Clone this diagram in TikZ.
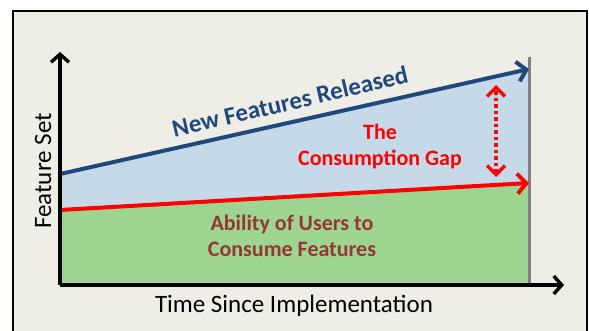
\documentclass[tikz,border=0pt]{standalone}
\usepackage{fontspec}
\setmainfont{Carlito}
\usetikzlibrary{arrows.meta}

\definecolor{panelbg}{RGB}{239,238,230}
\definecolor{gapfill}{RGB}{198,217,232}
\definecolor{usefill}{RGB}{157,212,145}
\definecolor{newblue}{RGB}{31,73,125}
\definecolor{usered}{RGB}{149,55,53}
\definecolor{limitgray}{RGB}{128,128,128}

\begin{document}
\begin{tikzpicture}
    [
        x=1pt, y=-1pt,
        axis/.style = {
                line width=3.4pt,
                -{Straight Barb[length=8pt,width=18pt]}
            },
        trend/.style = {
                line width=4pt,
                -{Straight Barb[length=9pt,width=20pt]}
            },
        gaparrow/.style = {
                red,
                line width=3.5pt,
                dash pattern=on 3.5pt off 3pt,
                {Straight Barb[length=9pt,width=18pt]}-{Straight Barb[length=9pt,width=18pt]}
            },
        boldlabel/.style = {
                font=\bfseries\fontsize{22}{26}\selectfont,
                align=center,
                anchor=base
            },
        axislabel/.style = {
                font=\fontsize{25}{30}\selectfont,
                anchor=base
            },
    ]

    \useasboundingbox (0,0) rectangle (589,331);
    \fill[white] (0,0) rectangle (589,331);
    \draw[line width=2pt, fill=panelbg] (13,11) rectangle (587,335);

    % points of the chart
    \coordinate (origin) at (60,285);
    \coordinate (ytop) at (60,52);
    \coordinate (xend) at (564,285);
    \coordinate (limtop) at (529,57);
    \coordinate (limbot) at (529,285);
    \coordinate (newstart) at (60,174);
    \coordinate (newend) at (529,69);
    \coordinate (usestart) at (60,210);
    \coordinate (useend) at (529,183);
    \coordinate (gaptop) at (496,85);
    \coordinate (gapbot) at (496,177);

    % areas
    \fill[usefill] (origin) -- (usestart) -- (useend) -- (limbot) -- cycle;
    \fill[gapfill] (newstart) -- (newend) -- (useend) -- (usestart) -- cycle;

    \draw[limitgray, line width=3pt] (limbot) -- (limtop);

    \draw[trend, newblue] (newstart) -- (newend);
    \draw[trend, red] (usestart) -- (useend);
    \draw[gaparrow] (gapbot) -- (gaptop);

    \draw[axis] (origin) -- (ytop);
    \draw[axis] (origin) -- (xend);

    % labels (base of the last line)
    \node[boldlabel, newblue, rotate=13, font=\bfseries\fontsize{25}{30}\selectfont] (newlabel) at (292,110) {New Features Released};
    \node[boldlabel, red] (gaplabel) at (380,166) {The\\Consumption Gap};
    \node[boldlabel, usered] (uselabel) at (292,256) {Ability of Users to\\Consume Features};
    \node[axislabel, rotate=90] (ylabel) at (51,171) {Feature Set};
    \node[axislabel] (xlabel) at (294,312) {Time Since Implementation};

\end{tikzpicture}
\end{document}
